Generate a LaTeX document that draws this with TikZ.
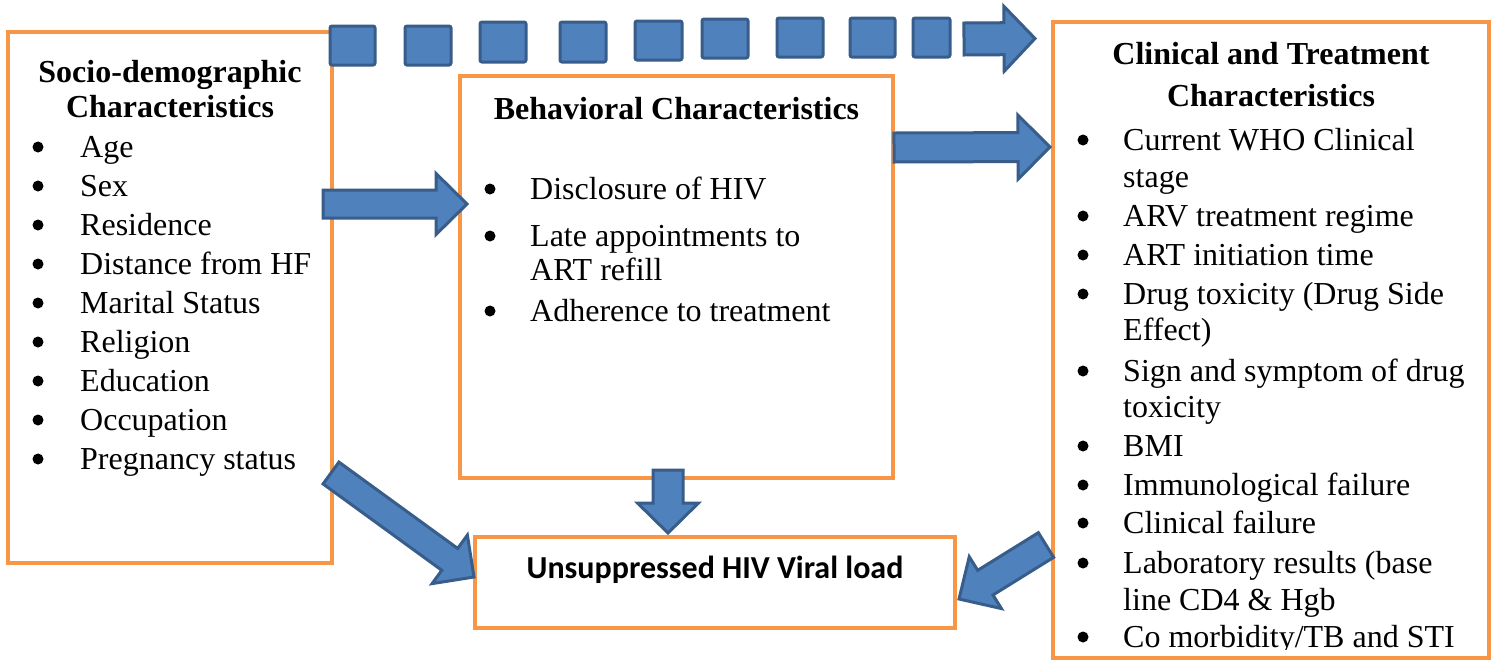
\documentclass[tikz,border=0pt]{standalone}
\usepackage{fontspec}
\setmainfont{Liberation Serif}
\newfontfamily\calibri{Carlito}
\usetikzlibrary{calc}
\definecolor{orangeline}{HTML}{F79646}
\definecolor{arrowfill}{HTML}{4F81BD}
\definecolor{arrowline}{HTML}{385D8A}
\newcommand\fsl{/}
\tikzset{
 framebox/.style={draw=orangeline, line width=4pt, inner sep=0pt, outer sep=0pt},
 blockarrow/.style={fill=arrowfill, draw=arrowline, line width=3pt, line join=miter},
 dotsq/.style={fill=arrowfill, draw=arrowline, line width=3pt, rounded corners=2pt},
 txt/.style={anchor=base west, inner sep=0pt, font=\fontsize{32}{39}\selectfont},
 ttl/.style={anchor=base, inner sep=0pt, font=\fontsize{32}{39}\selectfont\bfseries},
 bul/.style={circle, fill=black, inner sep=0pt, minimum size=11pt},
}
\newcommand\blkarrow[5]{%
 \coordinate (hb) at ($(#2)!#5!(#1)$);
 \draw[blockarrow] ($(#1)!#3!90:(#2)$) -- ($(hb)!#3!90:(#2)$) -- ($(hb)!#4!90:(#2)$) -- (#2)
   -- ($(hb)!#4!-90:(#2)$) -- ($(hb)!#3!-90:(#2)$) -- ($(#1)!#3!-90:(#2)$) -- cycle;
}
\begin{document}
\begin{tikzpicture}[x=1pt,y=-1pt]
\useasboundingbox (0,0) rectangle (1494,662);
\fill[white] (0,0) rectangle (1494,662);
% boxes
\node[framebox, minimum width=324pt, minimum height=531pt] (socio) at (170,297.5) {};
\node[framebox, minimum width=433pt, minimum height=402pt] (behav) at (676.5,277) {};
\node[framebox, minimum width=480pt, minimum height=91pt] (unsup) at (715,582.5) {};
\node[framebox, minimum width=436pt, minimum height=636pt] (clin) at (1271,340) {};
% left box text
\node[ttl] (st1) at (170,82) {Socio-demographic};
\node[ttl] (st2) at (170,117) {Characteristics};
\foreach \t [count=\i] in {Age,Sex,Residence,Distance from HF,Marital Status,Religion,Education,Occupation,Pregnancy status} {
 \node[txt] (s\i) at (80,{118+39*\i}) {\t};
 \node[bul] (sb\i) at (38,{108+39*\i}) {};
}
% middle box text
\node[ttl] (bt) at (676.5,119) {Behavioral Characteristics};
\foreach \yy/\t/\b [count=\i] in {199/Disclosure of HIV/1,246/Late appointments to/1,280/ART refill/0,321/Adherence to treatment/1} {
 \node[txt] (b\i) at (530,\yy) {\t};
 \ifnum\b=1 \node[bul] (bb\i) at (490,{\yy-10}) {};\fi
}
% right box text
\node[ttl] (ct1) at (1271,64) {Clinical and Treatment};
\node[ttl] (ct2) at (1271,106) {Characteristics};
\begin{scope}
\clip (1053,22) rectangle (1489,649);
\foreach \yy/\t/\b [count=\i] in {150/Current WHO Clinical/1,187/stage/0,226/ARV treatment regime/1,265/ART initiation time/1,304/Drug toxicity (Drug Side/1,340/Effect)/0,381/Sign and symptom of drug/1,417/toxicity/0,456/BMI/1,495/Immunological failure/1,533/Clinical failure/1,573/Laboratory results (base/1,610/line CD4 \& Hgb/0,647/Co morbidity\fsl TB and STI/1} {
 \node[txt] (c\i) at (1123,\yy) {\t};
 \ifnum\b=1 \node[bul] (cb\i) at (1083,{\yy-10}) {};\fi
}
\end{scope}
% bottom text
\node[anchor=base, inner sep=0pt, font=\calibri\bfseries\fontsize{32}{38}\selectfont] (ut) at (715,578) {Unsuppressed HIV Viral load};
% dotted arrow squares
\foreach \xa/\xb/\ya/\yb [count=\i] in {330/375/26/65,405/451/26/65,480/526/22/62,560/606/22/62,635/682/21/60,702/748/19/58,777/823/18/57,850/895/18/57,913/950/18/57} {
 \draw[dotsq] (\xa,\ya) rectangle (\xb,\yb);
}
\coordinate (d0) at (964,39);
\coordinate (d1) at (1035,38.5);
\blkarrow{d0}{d1}{16pt}{32.5pt}{31pt}
% block arrows
\coordinate (a1s) at (323,204);
\coordinate (a1e) at (467,204);
\blkarrow{a1s}{a1e}{14pt}{30.5pt}{31pt}
\coordinate (a2s) at (894,147.5);
\coordinate (a2e) at (1050,147);
\blkarrow{a2s}{a2e}{14.5pt}{32pt}{32pt}
\coordinate (a3s) at (668,470);
\coordinate (a3e) at (668,533);
\blkarrow{a3s}{a3e}{15pt}{30.5pt}{30pt}
\coordinate (a4s) at (331,473);
\coordinate (a4e) at (474,577);
\blkarrow{a4s}{a4e}{13.5pt}{30pt}{30pt}
\coordinate (a5s) at (1046,545);
\coordinate (a5e) at (959,599);
\blkarrow{a5s}{a5e}{14.5pt}{30.5pt}{31pt}
\end{tikzpicture}
\end{document}
